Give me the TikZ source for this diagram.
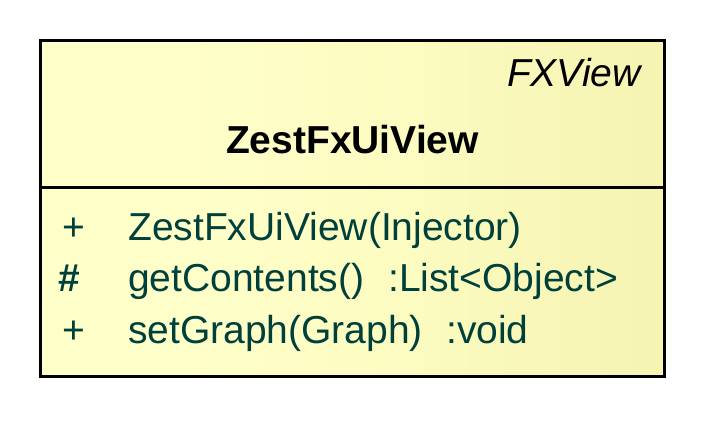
\documentclass[tikz,border=0pt]{standalone}
\usepackage{fontspec}
\setmainfont{Liberation Sans}
\usetikzlibrary{positioning}
\definecolor{membercol}{RGB}{0,64,60}
\definecolor{fillL}{RGB}{255,255,202}
\definecolor{fillM}{RGB}{252,251,192}
\definecolor{fillR}{RGB}{236,234,160}
\pgfdeclarehorizontalshading{classfill}{100bp}{color(0bp)=(fillL); color(35bp)=(fillL); color(55bp)=(fillM); color(100bp)=(fillR)}
\tikzset{
  member/.style={anchor=base west, inner sep=0pt, text=membercol, font=\fontsize{39}{47}\selectfont},
  title/.style={anchor=base, inner sep=0pt, font=\fontsize{39}{47}\selectfont\bfseries},
  stereo/.style={anchor=base east, inner sep=0pt, font=\fontsize{39}{47}\selectfont\itshape},
  boxline/.style={line width=3pt, draw=black}
}
\begin{document}
\begin{tikzpicture}[x=1pt,y=-1pt]
\useasboundingbox (0,0) rectangle (708,420);
\shade[shading=classfill] (40.5,40.5) rectangle (664.5,376.5);
\draw[boxline] (40.5,40.5) rectangle (664.5,376.5);
\draw[boxline] (40.5,187) -- (664.5,187);
\node[stereo] (st) at (641,86) {FXView};
\node[title] (ti) at (352.5,153) {ZestFxUiView};
\node[member] (v1) at (62,240) {+};
\node[member] (m1) at (128,240) {ZestFxUiView(Injector)};
\node[member, font=\fontsize{39}{47}\selectfont\bfseries] (v2) at (58,291.5) {\#};
\node[member] (m2) at (128,291.5) {getContents()};
\node[member] (r2) at (388,291.5) {:List<Object>};
\node[member] (v3) at (62,343) {+};
\node[member] (m3) at (128,343) {setGraph(Graph)};
\node[member] (r3) at (446,343) {:void};
\end{tikzpicture}
\end{document}
